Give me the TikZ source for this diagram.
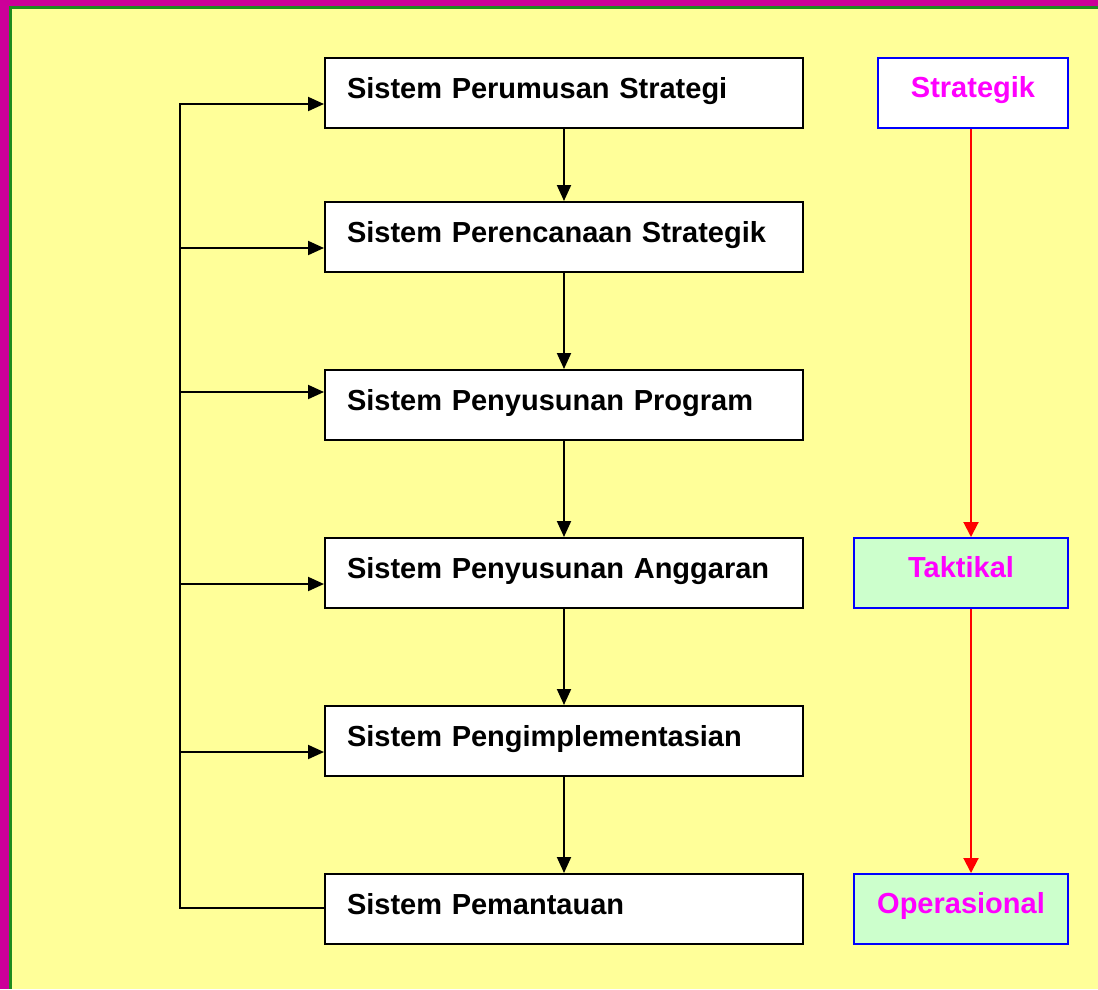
\documentclass[tikz,border=0pt]{standalone}
\usepackage{fontspec}
\setmainfont{Liberation Sans}
\usetikzlibrary{arrows.meta}
\definecolor{bgyellow}{HTML}{FFFF99}
\definecolor{framemag}{HTML}{CC0099}
\definecolor{framegreen}{HTML}{1E8C1E}
\definecolor{lvlmag}{HTML}{FF00FF}
\definecolor{lvlblue}{HTML}{0000FF}
\definecolor{lvlgreen}{HTML}{CCFFCC}
\definecolor{arrred}{HTML}{FF0000}
\tikzset{
  sysbox/.style={draw=black, fill=white, line width=2pt, anchor=north west,
    inner xsep=22pt, inner ysep=0pt, text width=434pt, align=left,
    text height=40pt, text depth=30pt,
    font=\fontsize{29}{34}\selectfont\bfseries},
  lvlbox/.style={draw=lvlblue, line width=2pt, anchor=north west,
    inner xsep=0pt, inner ysep=0pt, align=center,
    text height=39pt, text depth=31pt, text=lvlmag,
    font=\fontsize{29}{34}\selectfont\bfseries},
  conn/.style={draw=black, line width=2pt},
  arr/.style={conn, -{Triangle[length=16pt,width=14pt]}},
  redarr/.style={draw=arrred, line width=2pt, -{Triangle[length=15pt,width=15pt]}}
}
\begin{document}
\begin{tikzpicture}[x=1pt,y=-1pt]
\useasboundingbox (0,0) rectangle (1098,989);
\fill[bgyellow] (0,0) rectangle (1098,989);
\fill[framemag] (0,0) rectangle (9,989);
\fill[framemag] (0,0) rectangle (1098,6);
\fill[framegreen] (9,6) rectangle (11.5,989);
\fill[framegreen] (9,6) rectangle (1098,8.5);

\node[sysbox] (s1) at (324,57) {Sistem Perumusan Strategi};
\node[sysbox] (s2) at (324,201) {Sistem Perencanaan Strategik};
\node[sysbox] (s3) at (324,369) {Sistem Penyusunan Program};
\node[sysbox] (s4) at (324,537) {Sistem Penyusunan Anggaran};
\node[sysbox] (s5) at (324,705) {Sistem Pengimplementasian};
\node[sysbox] (s6) at (324,873) {Sistem Pemantauan};

\node[lvlbox, fill=white, minimum width=190pt] (l1) at (877,57) {Strategik};
\node[lvlbox, fill=lvlgreen, minimum width=214pt] (l2) at (853,537) {Taktikal};
\node[lvlbox, fill=lvlgreen, minimum width=214pt] (l3) at (853,873) {Operasional};

\draw[arr] (s1.south) -- (s2.north);
\draw[arr] (s2.south) -- (s3.north);
\draw[arr] (s3.south) -- (s4.north);
\draw[arr] (s4.south) -- (s5.north);
\draw[arr] (s5.south) -- (s6.north);

\coordinate (fa) at (180,104);
\coordinate (fb) at (180,248);
\coordinate (fc) at (180,392);
\coordinate (fd) at (180,584);
\coordinate (fe) at (180,752);
\coordinate (ff) at (180,908);
\draw[conn, line cap=rect] (fa) -- (ff);
\draw[arr] (fa) -- (fa -| s1.west);
\draw[arr] (fb) -- (fb -| s2.west);
\draw[arr] (fc) -- (fc -| s3.west);
\draw[arr] (fd) -- (fd -| s4.west);
\draw[arr] (fe) -- (fe -| s5.west);
\draw[conn] (ff) -- (ff -| s6.west);

\coordinate (rx) at (971,0);
\draw[redarr] (l1.south -| rx) -- (l2.north -| rx);
\draw[redarr] (l2.south -| rx) -- (l3.north -| rx);
\end{tikzpicture}
\end{document}
